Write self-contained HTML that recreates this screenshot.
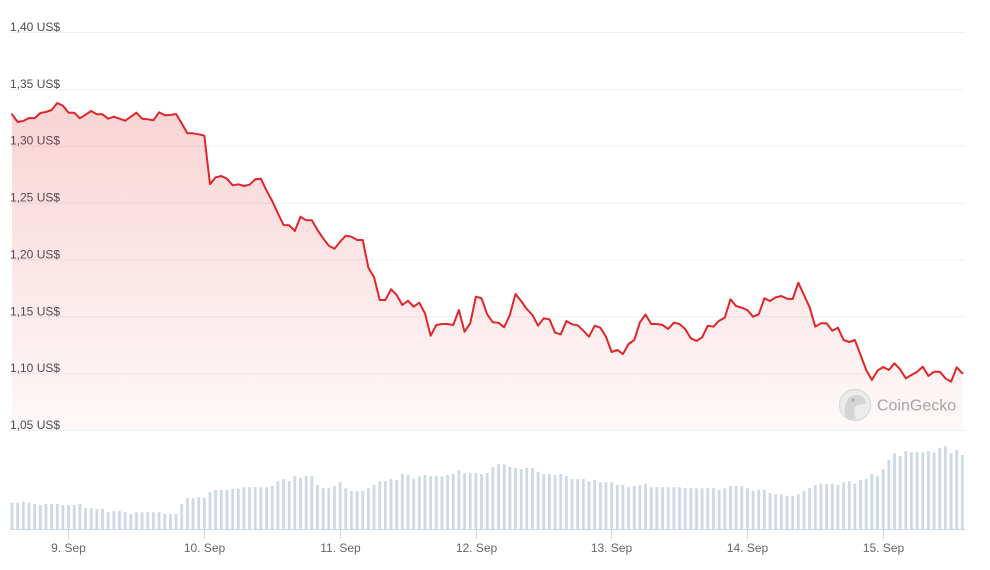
<!DOCTYPE html>
<html><head><meta charset="utf-8"><style>
html,body{margin:0;padding:0;background:#fff;}
svg{display:block;}
.yl{font-family:"Liberation Sans",sans-serif;font-size:12px;fill:#4a4b57;}
.xl{font-family:"Liberation Sans",sans-serif;font-size:12px;fill:#666;}
</style></head><body>
<svg width="990" height="570" viewBox="0 0 990 570" xmlns="http://www.w3.org/2000/svg">
<defs>
<linearGradient id="g" gradientUnits="userSpaceOnUse" x1="0" y1="100" x2="0" y2="430">
<stop offset="0" stop-color="#e0262a" stop-opacity="0.2"/>
<stop offset="1" stop-color="#e0262a" stop-opacity="0.03"/>
</linearGradient>
</defs>
<rect width="990" height="570" fill="#fff"/>
<g stroke="#eef0f4" stroke-width="1">
<line x1="10" x2="965" y1="32.5" y2="32.5"/>
<line x1="10" x2="965" y1="89.4" y2="89.4"/>
<line x1="10" x2="965" y1="146.2" y2="146.2"/>
<line x1="10" x2="965" y1="203.1" y2="203.1"/>
<line x1="10" x2="965" y1="259.9" y2="259.9"/>
<line x1="10" x2="965" y1="316.8" y2="316.8"/>
<line x1="10" x2="965" y1="373.6" y2="373.6"/>
<line x1="10" x2="965" y1="430.5" y2="430.5"/>
</g>
<g class="yl">
<text x="10" y="31">1,40 US$</text>
<text x="10" y="87.9">1,35 US$</text>
<text x="10" y="144.7">1,30 US$</text>
<text x="10" y="201.6">1,25 US$</text>
<text x="10" y="258.4">1,20 US$</text>
<text x="10" y="315.3">1,15 US$</text>
<text x="10" y="372.1">1,10 US$</text>
<text x="10" y="429">1,05 US$</text>
</g>
<path fill="url(#g)" d="M12,114.3 L17.66,122 L23.31,121 L28.97,118 L34.63,118.3 L40.29,113 L45.94,112 L51.6,110 L57.26,103 L62.91,105.7 L68.57,112.7 L74.23,112.7 L79.88,118.3 L85.54,114.7 L91.2,111 L96.86,114.3 L102.51,114.3 L108.17,118.7 L113.83,116.7 L119.48,118.7 L125.14,120.7 L130.8,116.7 L136.45,112.7 L142.11,118.7 L147.77,119.3 L153.43,120.3 L159.08,112.3 L164.74,115.3 L170.4,115 L176.05,114 L181.71,123.3 L187.37,133.3 L193.02,133.3 L198.68,134.3 L204.34,135.7 L210,184.3 L215.65,177.3 L221.31,176 L226.97,178.7 L232.62,185.3 L238.28,184.3 L243.94,186 L249.59,184.7 L255.25,179.3 L260.91,178.7 L266.57,190.7 L272.22,201 L277.88,213.3 L283.54,225 L289.19,225.3 L294.85,231 L300.51,216.7 L306.16,220.3 L311.82,220.3 L317.48,230 L323.14,238.3 L328.79,245.7 L334.45,248.7 L340.11,241.7 L345.76,235.7 L351.42,236.7 L357.08,240 L362.73,240 L368.39,267.7 L374.05,277.3 L379.71,300 L385.36,300 L391.02,289.3 L396.68,295 L402.33,305 L407.99,300.7 L413.65,306.7 L419.3,302.7 L424.96,313.3 L430.62,335.7 L436.28,325 L441.93,324 L447.59,324 L453.25,325 L458.9,310 L464.56,331.7 L470.22,323.3 L475.87,296.7 L481.53,298.3 L487.19,314.3 L492.85,322.3 L498.5,322.7 L504.16,327.3 L509.82,315 L515.47,294 L521.13,301 L526.79,309 L532.44,315 L538.1,325.7 L543.76,318.3 L549.42,319.3 L555.07,332.7 L560.73,334.3 L566.39,321 L572.04,324.3 L577.7,325.3 L583.36,330.7 L589.01,336.7 L594.67,325.7 L600.33,327.7 L605.99,336.7 L611.64,352 L617.3,350 L622.96,354 L628.61,344 L634.27,340 L639.93,322.3 L645.58,314.5 L651.24,324 L656.9,324 L662.56,325 L668.21,329 L673.87,322.7 L679.53,324 L685.18,329 L690.84,338.3 L696.5,341 L702.15,337.3 L707.81,325.7 L713.47,326.7 L719.13,320.7 L724.78,317.7 L730.44,299.3 L736.1,306 L741.75,307.7 L747.41,310 L753.07,316.7 L758.72,314.3 L764.38,298.3 L770.04,301 L775.7,297.3 L781.35,296 L787.01,298.7 L792.67,299 L798.32,282.7 L803.98,295 L809.64,307.3 L815.29,326.7 L820.95,323.3 L826.61,323.3 L832.27,330.7 L837.92,327.7 L843.58,340 L849.24,342 L854.89,340 L860.55,355 L866.21,370 L871.86,380 L877.52,370.7 L883.18,367 L888.84,370 L894.49,363.3 L900.15,369.3 L905.81,378.3 L911.46,375 L917.12,371.7 L922.78,366.7 L928.43,376 L934.09,371.7 L939.75,371.7 L945.41,378.3 L951.06,381.7 L956.72,367.3 L962.38,373.3 L962.38,430 L12,430 Z"/>
<!-- CoinGecko watermark -->
<g opacity="0.9">
<circle cx="855" cy="405" r="15.5" fill="#ececec" stroke="#d6d6d6" stroke-width="1.2"/>
<path d="M845,416 C844,404 847,396 855,395 C862,394 866,399 866,403 C863,405 858,404 856,406 C853,409 854,414 856,419 C851,420 847,419 845,416 Z" fill="#d2d2d2"/>
<circle cx="853" cy="400" r="1.6" fill="#a8a8a8"/>
<text x="877" y="410.5" font-family="Liberation Sans, sans-serif" font-size="16" fill="#9c9c9c">CoinGecko</text>
</g>
<path fill="none" stroke="#e0262a" stroke-width="2" stroke-linejoin="round" stroke-linecap="round" d="M12,114.3 L17.66,122 L23.31,121 L28.97,118 L34.63,118.3 L40.29,113 L45.94,112 L51.6,110 L57.26,103 L62.91,105.7 L68.57,112.7 L74.23,112.7 L79.88,118.3 L85.54,114.7 L91.2,111 L96.86,114.3 L102.51,114.3 L108.17,118.7 L113.83,116.7 L119.48,118.7 L125.14,120.7 L130.8,116.7 L136.45,112.7 L142.11,118.7 L147.77,119.3 L153.43,120.3 L159.08,112.3 L164.74,115.3 L170.4,115 L176.05,114 L181.71,123.3 L187.37,133.3 L193.02,133.3 L198.68,134.3 L204.34,135.7 L210,184.3 L215.65,177.3 L221.31,176 L226.97,178.7 L232.62,185.3 L238.28,184.3 L243.94,186 L249.59,184.7 L255.25,179.3 L260.91,178.7 L266.57,190.7 L272.22,201 L277.88,213.3 L283.54,225 L289.19,225.3 L294.85,231 L300.51,216.7 L306.16,220.3 L311.82,220.3 L317.48,230 L323.14,238.3 L328.79,245.7 L334.45,248.7 L340.11,241.7 L345.76,235.7 L351.42,236.7 L357.08,240 L362.73,240 L368.39,267.7 L374.05,277.3 L379.71,300 L385.36,300 L391.02,289.3 L396.68,295 L402.33,305 L407.99,300.7 L413.65,306.7 L419.3,302.7 L424.96,313.3 L430.62,335.7 L436.28,325 L441.93,324 L447.59,324 L453.25,325 L458.9,310 L464.56,331.7 L470.22,323.3 L475.87,296.7 L481.53,298.3 L487.19,314.3 L492.85,322.3 L498.5,322.7 L504.16,327.3 L509.82,315 L515.47,294 L521.13,301 L526.79,309 L532.44,315 L538.1,325.7 L543.76,318.3 L549.42,319.3 L555.07,332.7 L560.73,334.3 L566.39,321 L572.04,324.3 L577.7,325.3 L583.36,330.7 L589.01,336.7 L594.67,325.7 L600.33,327.7 L605.99,336.7 L611.64,352 L617.3,350 L622.96,354 L628.61,344 L634.27,340 L639.93,322.3 L645.58,314.5 L651.24,324 L656.9,324 L662.56,325 L668.21,329 L673.87,322.7 L679.53,324 L685.18,329 L690.84,338.3 L696.5,341 L702.15,337.3 L707.81,325.7 L713.47,326.7 L719.13,320.7 L724.78,317.7 L730.44,299.3 L736.1,306 L741.75,307.7 L747.41,310 L753.07,316.7 L758.72,314.3 L764.38,298.3 L770.04,301 L775.7,297.3 L781.35,296 L787.01,298.7 L792.67,299 L798.32,282.7 L803.98,295 L809.64,307.3 L815.29,326.7 L820.95,323.3 L826.61,323.3 L832.27,330.7 L837.92,327.7 L843.58,340 L849.24,342 L854.89,340 L860.55,355 L866.21,370 L871.86,380 L877.52,370.7 L883.18,367 L888.84,370 L894.49,363.3 L900.15,369.3 L905.81,378.3 L911.46,375 L917.12,371.7 L922.78,366.7 L928.43,376 L934.09,371.7 L939.75,371.7 L945.41,378.3 L951.06,381.7 L956.72,367.3 L962.38,373.3"/>
<path fill="#cfd8e6" d="M10.6 502.7h2.8V529h-2.8zM16.26 502.7h2.8V529h-2.8zM21.91 501.7h2.8V529h-2.8zM27.57 502.7h2.8V529h-2.8zM33.23 504h2.8V529h-2.8zM38.89 505h2.8V529h-2.8zM44.54 504h2.8V529h-2.8zM50.2 504h2.8V529h-2.8zM55.86 504h2.8V529h-2.8zM61.51 505h2.8V529h-2.8zM67.17 505h2.8V529h-2.8zM72.83 505h2.8V529h-2.8zM78.48 504h2.8V529h-2.8zM84.14 508h2.8V529h-2.8zM89.8 508h2.8V529h-2.8zM95.46 509h2.8V529h-2.8zM101.11 509h2.8V529h-2.8zM106.77 512.3h2.8V529h-2.8zM112.43 511h2.8V529h-2.8zM118.08 511h2.8V529h-2.8zM123.74 512.3h2.8V529h-2.8zM129.4 514h2.8V529h-2.8zM135.05 512.3h2.8V529h-2.8zM140.71 512.3h2.8V529h-2.8zM146.37 512.3h2.8V529h-2.8zM152.03 512.3h2.8V529h-2.8zM157.68 512.3h2.8V529h-2.8zM163.34 514h2.8V529h-2.8zM169 514h2.8V529h-2.8zM174.65 514h2.8V529h-2.8zM180.31 504h2.8V529h-2.8zM185.97 498h2.8V529h-2.8zM191.62 498h2.8V529h-2.8zM197.28 497.3h2.8V529h-2.8zM202.94 498h2.8V529h-2.8zM208.6 492.3h2.8V529h-2.8zM214.25 490h2.8V529h-2.8zM219.91 490h2.8V529h-2.8zM225.57 490h2.8V529h-2.8zM231.22 488.7h2.8V529h-2.8zM236.88 488.7h2.8V529h-2.8zM242.54 487.3h2.8V529h-2.8zM248.19 487.3h2.8V529h-2.8zM253.85 487.3h2.8V529h-2.8zM259.51 487.3h2.8V529h-2.8zM265.17 487.3h2.8V529h-2.8zM270.82 486h2.8V529h-2.8zM276.48 481.3h2.8V529h-2.8zM282.14 479h2.8V529h-2.8zM287.79 481.3h2.8V529h-2.8zM293.45 476h2.8V529h-2.8zM299.11 477.7h2.8V529h-2.8zM304.76 476h2.8V529h-2.8zM310.42 476h2.8V529h-2.8zM316.08 485h2.8V529h-2.8zM321.74 488.3h2.8V529h-2.8zM327.39 488.3h2.8V529h-2.8zM333.05 486h2.8V529h-2.8zM338.71 482.3h2.8V529h-2.8zM344.36 488.3h2.8V529h-2.8zM350.02 491h2.8V529h-2.8zM355.68 491h2.8V529h-2.8zM361.33 491h2.8V529h-2.8zM366.99 488.3h2.8V529h-2.8zM372.65 485h2.8V529h-2.8zM378.31 481.3h2.8V529h-2.8zM383.96 481.3h2.8V529h-2.8zM389.62 479h2.8V529h-2.8zM395.28 480h2.8V529h-2.8zM400.93 474h2.8V529h-2.8zM406.59 475h2.8V529h-2.8zM412.25 479h2.8V529h-2.8zM417.9 476.3h2.8V529h-2.8zM423.56 475h2.8V529h-2.8zM429.22 476.3h2.8V529h-2.8zM434.88 476.3h2.8V529h-2.8zM440.53 476.3h2.8V529h-2.8zM446.19 475h2.8V529h-2.8zM451.85 474h2.8V529h-2.8zM457.5 470.3h2.8V529h-2.8zM463.16 473h2.8V529h-2.8zM468.82 473h2.8V529h-2.8zM474.47 473h2.8V529h-2.8zM480.13 474h2.8V529h-2.8zM485.79 473h2.8V529h-2.8zM491.45 467h2.8V529h-2.8zM497.1 464.3h2.8V529h-2.8zM502.76 464.3h2.8V529h-2.8zM508.42 467h2.8V529h-2.8zM514.07 468h2.8V529h-2.8zM519.73 469.3h2.8V529h-2.8zM525.39 468h2.8V529h-2.8zM531.04 468h2.8V529h-2.8zM536.7 471.7h2.8V529h-2.8zM542.36 474h2.8V529h-2.8zM548.02 474h2.8V529h-2.8zM553.67 475h2.8V529h-2.8zM559.33 474h2.8V529h-2.8zM564.99 476.3h2.8V529h-2.8zM570.64 479h2.8V529h-2.8zM576.3 479h2.8V529h-2.8zM581.96 479h2.8V529h-2.8zM587.61 481.3h2.8V529h-2.8zM593.27 480h2.8V529h-2.8zM598.93 482.3h2.8V529h-2.8zM604.59 482.3h2.8V529h-2.8zM610.24 482.3h2.8V529h-2.8zM615.9 485h2.8V529h-2.8zM621.56 485h2.8V529h-2.8zM627.21 487.3h2.8V529h-2.8zM632.87 486h2.8V529h-2.8zM638.53 485h2.8V529h-2.8zM644.18 483.7h2.8V529h-2.8zM649.84 487.3h2.8V529h-2.8zM655.5 487.3h2.8V529h-2.8zM661.16 487.3h2.8V529h-2.8zM666.81 487.3h2.8V529h-2.8zM672.47 487.3h2.8V529h-2.8zM678.13 487.3h2.8V529h-2.8zM683.78 488.3h2.8V529h-2.8zM689.44 488.3h2.8V529h-2.8zM695.1 488.3h2.8V529h-2.8zM700.75 488.3h2.8V529h-2.8zM706.41 488.3h2.8V529h-2.8zM712.07 488.3h2.8V529h-2.8zM717.73 490h2.8V529h-2.8zM723.38 488.3h2.8V529h-2.8zM729.04 486h2.8V529h-2.8zM734.7 486h2.8V529h-2.8zM740.35 486h2.8V529h-2.8zM746.01 488.3h2.8V529h-2.8zM751.67 491h2.8V529h-2.8zM757.32 489.7h2.8V529h-2.8zM762.98 489.7h2.8V529h-2.8zM768.64 493.3h2.8V529h-2.8zM774.3 494.3h2.8V529h-2.8zM779.95 494.3h2.8V529h-2.8zM785.61 495.7h2.8V529h-2.8zM791.27 495.7h2.8V529h-2.8zM796.92 494.3h2.8V529h-2.8zM802.58 491h2.8V529h-2.8zM808.24 488.3h2.8V529h-2.8zM813.89 485h2.8V529h-2.8zM819.55 483.7h2.8V529h-2.8zM825.21 483.7h2.8V529h-2.8zM830.87 483.7h2.8V529h-2.8zM836.52 485h2.8V529h-2.8zM842.18 482.3h2.8V529h-2.8zM847.84 481.3h2.8V529h-2.8zM853.49 483.7h2.8V529h-2.8zM859.15 480h2.8V529h-2.8zM864.81 479h2.8V529h-2.8zM870.46 474h2.8V529h-2.8zM876.12 476.3h2.8V529h-2.8zM881.78 469.3h2.8V529h-2.8zM887.44 460h2.8V529h-2.8zM893.09 453.3h2.8V529h-2.8zM898.75 456h2.8V529h-2.8zM904.41 451.3h2.8V529h-2.8zM910.06 452.3h2.8V529h-2.8zM915.72 452.3h2.8V529h-2.8zM921.38 452.3h2.8V529h-2.8zM927.03 451.3h2.8V529h-2.8zM932.69 452.3h2.8V529h-2.8zM938.35 447.7h2.8V529h-2.8zM944.01 446.3h2.8V529h-2.8zM949.66 453.3h2.8V529h-2.8zM955.32 450h2.8V529h-2.8zM960.98 455h2.8V529h-2.8z"/>
<line x1="10" x2="965" y1="529.5" y2="529.5" stroke="#ccd6eb" stroke-width="1"/>
<g stroke="#ccd6eb" stroke-width="1">
<line x1="68.5" x2="68.5" y1="529" y2="539"/>
<line x1="204.5" x2="204.5" y1="529" y2="539"/>
<line x1="340.5" x2="340.5" y1="529" y2="539"/>
<line x1="476.5" x2="476.5" y1="529" y2="539"/>
<line x1="611.5" x2="611.5" y1="529" y2="539"/>
<line x1="747.5" x2="747.5" y1="529" y2="539"/>
<line x1="883.5" x2="883.5" y1="529" y2="539"/>
</g>
<g class="xl" text-anchor="middle">
<text x="68.5" y="552">9. Sep</text>
<text x="204.5" y="552">10. Sep</text>
<text x="340.5" y="552">11. Sep</text>
<text x="476.5" y="552">12. Sep</text>
<text x="611.5" y="552">13. Sep</text>
<text x="747.5" y="552">14. Sep</text>
<text x="883.5" y="552">15. Sep</text>
</g>
</svg>
</body></html>
